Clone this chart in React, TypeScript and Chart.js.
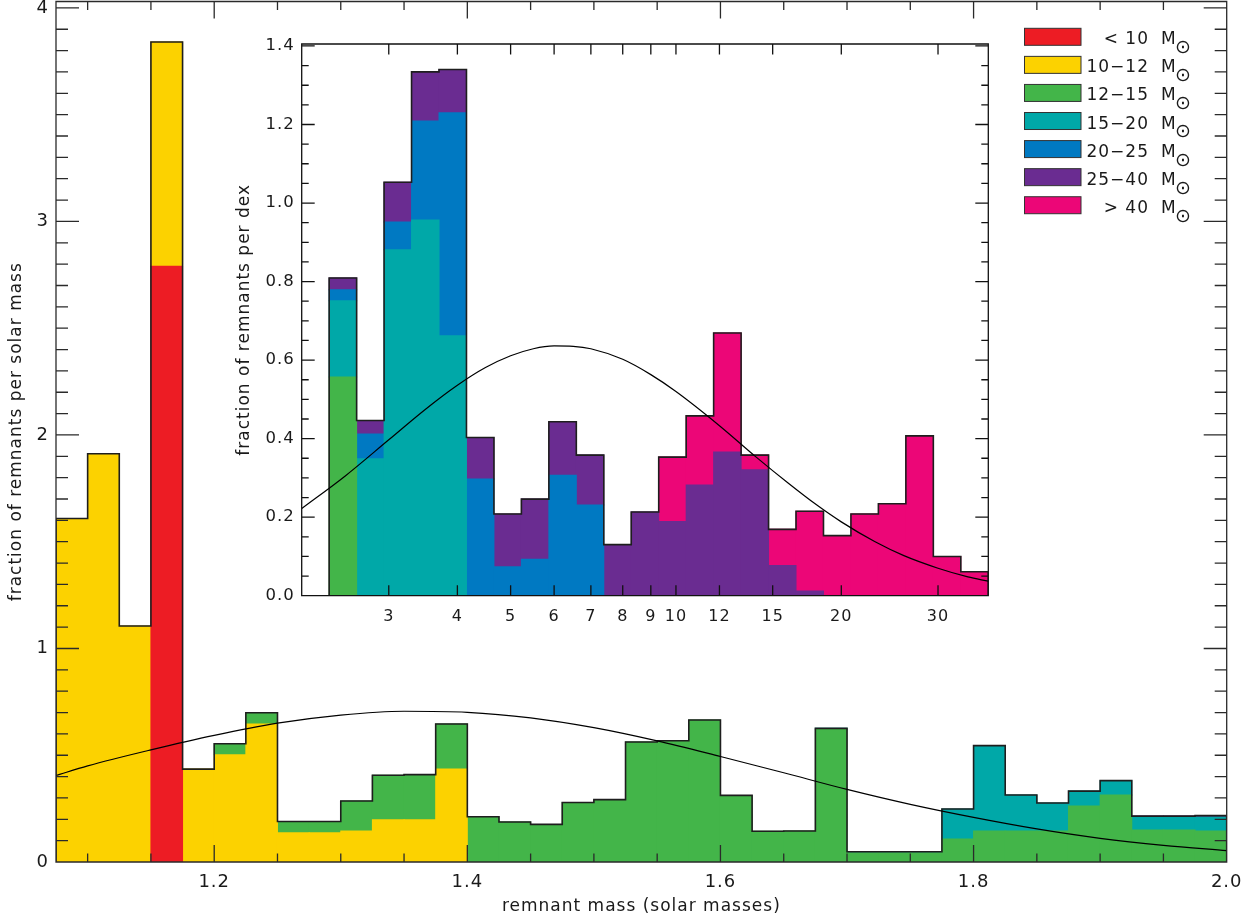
import React, { useEffect, useRef } from 'react';
import { Chart, registerables } from 'chart.js';

Chart.register(...registerables);

const FONT = "'DejaVu Sans', 'Liberation Sans', sans-serif";
const TEXT = '#1a1a1a';
const OUTLINE = '#1e1e1e';
const FRAME = '#2a2a2a';

// progenitor mass classes
const classLabels = ['< 10', '10−12', '12−15', '15−20', '20−25', '25−40', '> 40'];
const classColors = ['#ED1C24', '#FCD200', '#43B549', '#00A8A8', '#0079C2', '#6A2C91', '#EC0677'];

// ---------- main histogram (remnant mass, bins of 0.025 Msun) ----------
const mainBinStart = 1.075;
const mainBinWidth = 0.025;
const mainRed = [0, 0, 0, 2.79, 0, 0, 0, 0, 0, 0, 0, 0, 0, 0, 0, 0, 0, 0, 0, 0, 0, 0, 0, 0, 0, 0, 0, 0, 0, 0, 0, 0, 0, 0, 0, 0, 0];
const mainYellow = [1.609, 1.912, 1.105, 1.05, 0.435, 0.502, 0.646, 0.137, 0.137, 0.145, 0.198, 0.198, 0.435, 0, 0, 0, 0, 0, 0, 0, 0, 0, 0, 0, 0, 0, 0, 0, 0, 0, 0, 0, 0, 0, 0, 0, 0];
const mainGreen = [0, 0, 0, 0, 0, 0.052, 0.053, 0.053, 0.053, 0.141, 0.208, 0.211, 0.211, 0.212, 0.187, 0.176, 0.279, 0.292, 0.562, 0.568, 0.665, 0.312, 0.144, 0.145, 0.622, 0.043, 0.043, 0.043, 0.108, 0.145, 0.145, 0.145, 0.262, 0.314, 0.15, 0.15, 0.145];
const mainTeal = [0, 0, 0, 0, 0, 0, 0, 0, 0, 0, 0, 0, 0, 0, 0, 0, 0, 0, 0, 0, 0, 0, 0, 0, 0.004, 0.005, 0.005, 0.005, 0.14, 0.4, 0.169, 0.131, 0.07, 0.067, 0.062, 0.062, 0.066];
const mainBlue = [0, 0, 0, 0, 0, 0, 0, 0, 0, 0, 0, 0, 0, 0, 0, 0, 0, 0, 0, 0, 0, 0, 0, 0, 0, 0, 0, 0, 0, 0, 0, 0, 0, 0, 0, 0, 0];
const mainPurple = [0, 0, 0, 0, 0, 0, 0, 0, 0, 0, 0, 0, 0, 0, 0, 0, 0, 0, 0, 0, 0, 0, 0, 0, 0, 0, 0, 0, 0, 0, 0, 0, 0, 0, 0.003, 0.003, 0.003];
const mainMagenta = [0, 0, 0, 0, 0, 0, 0, 0, 0, 0, 0, 0, 0, 0, 0, 0, 0, 0, 0, 0, 0, 0, 0, 0, 0, 0, 0, 0, 0, 0, 0, 0, 0, 0, 0, 0, 0.003];

// fitted curve
const mainFitX = [1.075, 1.1, 1.15, 1.2, 1.25, 1.3, 1.35, 1.4, 1.45, 1.5, 1.55, 1.6, 1.65, 1.7, 1.75, 1.8, 1.85, 1.9, 1.95, 2.0];
const mainFitY = [0.405, 0.45, 0.525, 0.593, 0.65, 0.688, 0.706, 0.701, 0.675, 0.629, 0.567, 0.494, 0.418, 0.34, 0.27, 0.209, 0.155, 0.111, 0.078, 0.053];

// main axes
const mainXRange = [1.075, 2.0];
const mainYRange = [0, 4.03];
const mainXMajor = [1.2, 1.4, 1.6, 1.8, 2.0];
const mainXMinor = [1.1, 1.15, 1.25, 1.3, 1.35, 1.45, 1.5, 1.55, 1.65, 1.7, 1.75, 1.85, 1.9, 1.95];
const mainYMajor = [0, 1, 2, 3, 4];

// ---------- inset histogram (remnant mass, log bins of 0.05 dex) ----------
const insetLogStart = 0.3686;
const insetLogWidth = 0.05;
const insetRed = [0, 0, 0, 0, 0, 0, 0, 0, 0, 0, 0, 0, 0, 0, 0, 0, 0, 0, 0, 0, 0, 0, 0, 0];
const insetYellow = [0, 0, 0, 0, 0, 0, 0, 0, 0, 0, 0, 0, 0, 0, 0, 0, 0, 0, 0, 0, 0, 0, 0, 0];
const insetGreen = [0.557, 0, 0, 0, 0, 0, 0, 0, 0, 0, 0, 0, 0, 0, 0, 0, 0, 0, 0, 0, 0, 0, 0, 0];
const insetTeal = [0.194, 0.349, 0.881, 0.957, 0.662, 0, 0, 0, 0, 0, 0, 0, 0, 0, 0, 0, 0, 0, 0, 0, 0, 0, 0, 0];
const insetBlue = [0.028, 0.063, 0.071, 0.252, 0.568, 0.297, 0.074, 0.093, 0.307, 0.231, 0, 0, 0, 0, 0, 0, 0, 0, 0, 0, 0, 0, 0, 0];
const insetPurple = [0.03, 0.034, 0.101, 0.125, 0.11, 0.106, 0.134, 0.153, 0.136, 0.127, 0.13, 0.213, 0.189, 0.282, 0.366, 0.321, 0.077, 0.012, 0, 0, 0, 0, 0, 0];
const insetMagenta = [0, 0, 0, 0, 0, 0, 0, 0, 0, 0, 0, 0, 0.164, 0.176, 0.303, 0.037, 0.092, 0.203, 0.153, 0.208, 0.234, 0.407, 0.1, 0.061];

const insetFitX = [2.083, 2.5, 3, 3.5, 4, 4.5, 5, 5.5, 6, 6.5, 7, 8, 9, 10, 12, 14, 16, 18, 20, 23, 26, 30, 34, 37.04];
const insetFitY = [0.222, 0.305, 0.397, 0.475, 0.536, 0.581, 0.611, 0.629, 0.636, 0.635, 0.629, 0.602, 0.563, 0.52, 0.433, 0.353, 0.287, 0.232, 0.188, 0.138, 0.102, 0.07, 0.048, 0.037];

const insetXRange = [2.0826, 37.04];
const insetYRange = [0, 1.405];
const insetXTicks = [3, 4, 5, 6, 7, 8, 9, 10, 12, 15, 20, 30];
const insetYMajor = [0, 0.2, 0.4, 0.6, 0.8, 1.0, 1.2, 1.4];

// ---------- helpers ----------
function minorTicks(lo: number, hi: number, step: number, majors: number[]) {
  const out: number[] = [];
  const n = Math.round((hi - lo) / step);
  for (let i = 0; i <= n; i++) {
    const v = +(lo + i * step).toFixed(6);
    if (!majors.some((m) => Math.abs(m - v) < 1e-6)) out.push(v);
  }
  return out;
}

function sumSeries(series: number[][]) {
  return series[0].map((_, i) => series.reduce((s, a) => s + a[i], 0));
}

function outlinePoints(edges: number[], totals: number[]) {
  const pts: { x: number; y: number }[] = [{ x: edges[0], y: 0 }];
  totals.forEach((t, i) => pts.push({ x: edges[i], y: t }));
  pts.push({ x: edges[edges.length - 1], y: 0 });
  return pts;
}

function barDatasets(series: number[][], centers: number[]) {
  return series.map((vals, k) => ({
    type: 'bar' as const,
    label: classLabels[k] + ' M⊙',
    data: centers.map((c, i) => ({ x: c, y: vals[i] === 0 ? null : vals[i] })),
    backgroundColor: classColors[k],
    borderWidth: 0,
    barThickness: 'flex',
    barPercentage: 1,
    categoryPercentage: 1,
    inflateAmount: 0.5,
    order: 5,
  }));
}

const spacingPlugin = {
  id: 'letterSpacing',
  beforeUpdate(chart: any) {
    chart.ctx.letterSpacing = '1px';
  },
  beforeDraw(chart: any) {
    chart.ctx.letterSpacing = '1px';
  },
};

function makeFramePlugin(cfg: any) {
  return {
    id: 'frameTicks',
    afterDatasetsDraw(chart: any) {
      const { ctx, chartArea: a } = chart;
      const xs = chart.scales.x;
      const ys = chart.scales.y;
      ctx.save();
      ctx.strokeStyle = cfg.color;
      ctx.lineWidth = cfg.width;
      ctx.beginPath();
      const xsets: [number[], number][] = [[cfg.xMajor, cfg.xMajorLen], [cfg.xMinor, cfg.xMinorLen]];
      for (const [vals, len] of xsets) {
        for (const v of vals) {
          const p = xs.getPixelForValue(v);
          ctx.moveTo(p, a.bottom);
          ctx.lineTo(p, a.bottom - len);
          ctx.moveTo(p, a.top);
          ctx.lineTo(p, a.top + len);
        }
      }
      const ysets: [number[], number][] = [[cfg.yMajor, cfg.yMajorLen], [cfg.yMinor, cfg.yMinorLen]];
      for (const [vals, len] of ysets) {
        for (const v of vals) {
          const p = ys.getPixelForValue(v);
          ctx.moveTo(a.left, p);
          ctx.lineTo(a.left + len, p);
          ctx.moveTo(a.right, p);
          ctx.lineTo(a.right - len, p);
        }
      }
      ctx.rect(a.left, a.top, a.right - a.left, a.bottom - a.top);
      ctx.stroke();
      ctx.restore();
    },
  };
}

// legend drawn in page coordinates on the main canvas
const MAIN_OFFSET_Y = 30;
const legendPlugin = {
  id: 'massLegend',
  afterDraw(chart: any) {
    const ctx = chart.ctx;
    ctx.save();
    ctx.letterSpacing = '1px';
    classLabels.forEach((lab, i) => {
      const top = 28.3 + i * 28.07 + MAIN_OFFSET_Y;
      ctx.fillStyle = classColors[i];
      ctx.fillRect(1024.5, top, 56.5, 17);
      ctx.strokeStyle = '#333';
      ctx.lineWidth = 1;
      ctx.strokeRect(1024.5, top, 56.5, 17);
      ctx.fillStyle = TEXT;
      ctx.font = `17px ${FONT}`;
      ctx.textBaseline = 'alphabetic';
      ctx.textAlign = 'right';
      ctx.fillText(lab, 1149, top + 16);
      ctx.textAlign = 'left';
      ctx.fillText('M', 1161, top + 16);
      ctx.font = `19px ${FONT}`;
      ctx.textBaseline = 'middle';
      ctx.fillText('⊙', 1175, top + 20);
    });
    ctx.restore();
  },
};

function mainConfig(): any {
  const series = [mainRed, mainYellow, mainGreen, mainTeal, mainBlue, mainPurple, mainMagenta];
  const edges = Array.from({ length: mainRed.length + 1 }, (_, i) => mainBinStart + i * mainBinWidth);
  const centers = Array.from({ length: mainRed.length }, (_, i) => mainBinStart + (i + 0.5) * mainBinWidth);
  const totals = sumSeries(series);
  return {
    type: 'bar',
    data: {
      datasets: [
        ...barDatasets(series, centers),
        {
          type: 'line',
          label: 'outline',
          data: outlinePoints(edges, totals),
          borderColor: OUTLINE,
          borderWidth: 1.6,
          pointRadius: 0,
          stepped: true,
          fill: false,
          stack: 'outline',
          order: 1,
        },
        {
          type: 'line',
          label: 'fit',
          data: mainFitX.map((x, i) => ({ x, y: mainFitY[i] })),
          borderColor: '#000',
          borderWidth: 1.2,
          pointRadius: 0,
          cubicInterpolationMode: 'monotone',
          fill: false,
          stack: 'fit',
          order: 0,
        },
      ],
    },
    options: {
      responsive: false,
      animation: false,
      events: [],
      devicePixelRatio: 1,
      layout: { padding: { top: 31.5, right: 33.3, left: 0, bottom: 0 } },
      plugins: {
        legend: { display: false },
        tooltip: { enabled: false },
      },
      scales: {
        x: {
          type: 'linear',
          stacked: true,
          offset: false,
          min: mainXRange[0],
          max: mainXRange[1],
          afterBuildTicks: (s: any) => {
            s.ticks = mainXMajor.map((v) => ({ value: v }));
          },
          afterFit: (s: any) => {
            s.height = 60;
          },
          grid: { display: false, drawTicks: false, offset: false },
          border: { display: false },
          ticks: {
            autoSkip: false,
            maxRotation: 0,
            padding: 10,
            color: TEXT,
            font: { family: FONT, size: 18 },
            callback: (v: any) => Number(v).toFixed(1),
          },
          title: {
            display: true,
            text: 'remnant mass (solar masses)',
            color: TEXT,
            font: { family: FONT, size: 17 },
            padding: { top: 0, bottom: 5 },
          },
        },
        y: {
          type: 'linear',
          stacked: true,
          min: mainYRange[0],
          max: mainYRange[1],
          afterBuildTicks: (s: any) => {
            s.ticks = mainYMajor.map((v) => ({ value: v }));
          },
          afterFit: (s: any) => {
            s.width = 56;
          },
          grid: { display: false, drawTicks: false },
          border: { display: false },
          ticks: {
            autoSkip: false,
            padding: 7,
            color: TEXT,
            font: { family: FONT, size: 18 },
            callback: (v: any) => String(v),
          },
          title: {
            display: true,
            text: 'fraction of remnants per solar mass',
            color: TEXT,
            font: { family: FONT, size: 17 },
            padding: { top: 6, bottom: 0 },
          },
        },
      },
    },
    plugins: [
      spacingPlugin,
      makeFramePlugin({
        color: FRAME,
        width: 1.3,
        xMajor: mainXMajor,
        xMinor: mainXMinor,
        xMajorLen: 17,
        xMinorLen: 8.5,
        yMajor: mainYMajor,
        yMinor: minorTicks(0, 4, 0.1, mainYMajor),
        yMajorLen: 23,
        yMinorLen: 12,
      }),
      legendPlugin,
    ],
  };
}

function insetConfig(): any {
  const series = [insetRed, insetYellow, insetGreen, insetTeal, insetBlue, insetPurple, insetMagenta];
  const n = insetRed.length;
  const edges = Array.from({ length: n + 1 }, (_, k) => Math.pow(10, insetLogStart + k * insetLogWidth));
  const centers = Array.from({ length: n }, (_, k) => Math.pow(10, insetLogStart + (k + 0.5) * insetLogWidth));
  const totals = sumSeries(series);
  return {
    type: 'bar',
    data: {
      datasets: [
        ...barDatasets(series, centers),
        {
          type: 'line',
          label: 'outline',
          data: outlinePoints(edges, totals),
          borderColor: OUTLINE,
          borderWidth: 1.6,
          pointRadius: 0,
          stepped: true,
          fill: false,
          stack: 'outline',
          order: 1,
        },
        {
          type: 'line',
          label: 'fit',
          data: insetFitX.map((x, i) => ({ x, y: insetFitY[i] })),
          borderColor: '#000',
          borderWidth: 1.2,
          pointRadius: 0,
          cubicInterpolationMode: 'monotone',
          fill: false,
          stack: 'fit',
          order: 0,
        },
      ],
    },
    options: {
      responsive: false,
      animation: false,
      events: [],
      devicePixelRatio: 1,
      layout: { padding: { top: 24, right: 11.7, left: 0, bottom: 0 } },
      plugins: {
        legend: { display: false },
        tooltip: { enabled: false },
      },
      scales: {
        x: {
          type: 'logarithmic',
          stacked: true,
          offset: false,
          min: insetXRange[0],
          max: insetXRange[1],
          afterBuildTicks: (s: any) => {
            s.ticks = insetXTicks.map((v) => ({ value: v }));
          },
          afterFit: (s: any) => {
            s.height = 64.3;
          },
          grid: { display: false, drawTicks: false, offset: false },
          border: { display: false },
          ticks: {
            autoSkip: false,
            maxRotation: 0,
            padding: 12,
            color: TEXT,
            font: { family: FONT, size: 16 },
            callback: (v: any) => String(v),
          },
        },
        y: {
          type: 'linear',
          stacked: true,
          min: insetYRange[0],
          max: insetYRange[1],
          afterBuildTicks: (s: any) => {
            s.ticks = insetYMajor.map((v) => ({ value: v }));
          },
          afterFit: (s: any) => {
            s.width = 101.7;
          },
          grid: { display: false, drawTicks: false },
          border: { display: false },
          ticks: {
            autoSkip: false,
            padding: 7,
            color: TEXT,
            font: { family: FONT, size: 16.5 },
            callback: (v: any) => Number(v).toFixed(1),
          },
          title: {
            display: true,
            text: 'fraction of remnants per dex',
            color: TEXT,
            font: { family: FONT, size: 17 },
            padding: { top: 34, bottom: 0 },
          },
        },
      },
    },
    plugins: [
      spacingPlugin,
      makeFramePlugin({
        color: '#111',
        width: 1.3,
        xMajor: insetXTicks,
        xMinor: [],
        xMajorLen: 10.5,
        xMinorLen: 0,
        yMajor: insetYMajor,
        yMinor: minorTicks(0, 1.4, 0.05, insetYMajor),
        yMajorLen: 13,
        yMinorLen: 7,
      }),
    ],
  };
}

export default function App() {
  const mainRef = useRef<HTMLCanvasElement>(null);
  const insetRef = useRef<HTMLCanvasElement>(null);
  useEffect(() => {
    const main = new Chart(mainRef.current as HTMLCanvasElement, mainConfig());
    const inset = new Chart(insetRef.current as HTMLCanvasElement, insetConfig());
    return () => {
      main.destroy();
      inset.destroy();
    };
  }, []);
  return (
    <div style={{ position: 'absolute', left: 0, top: 0, width: 1260, height: 922, overflow: 'hidden', background: '#fff' }}>
      <canvas ref={mainRef} width={1260} height={952} style={{ position: 'absolute', left: 0, top: -MAIN_OFFSET_Y }} />
      <canvas ref={insetRef} width={800} height={640} style={{ position: 'absolute', left: 200, top: 20 }} />
    </div>
  );
}
